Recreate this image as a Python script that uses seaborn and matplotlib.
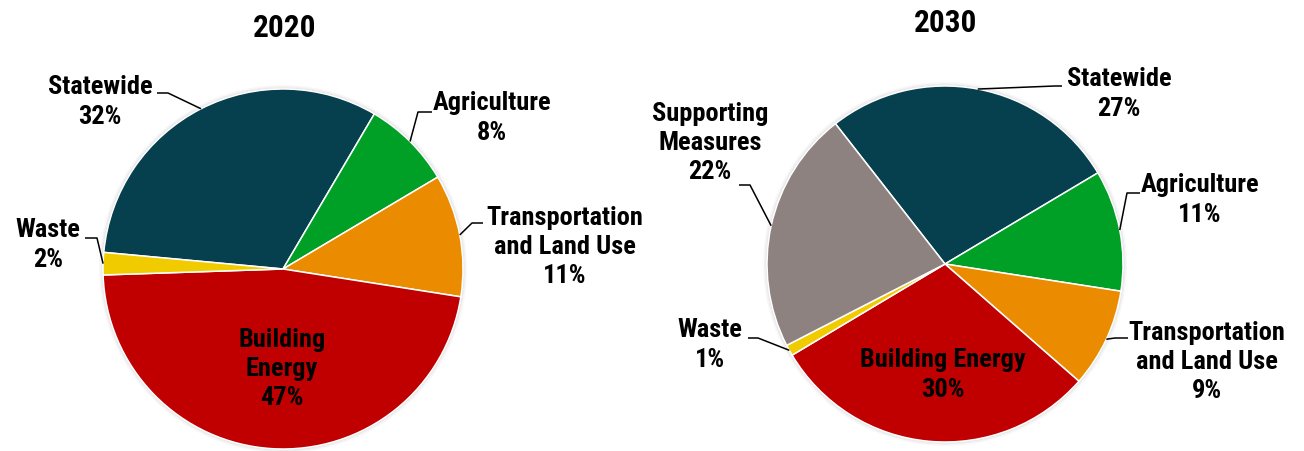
import numpy as np
import matplotlib
matplotlib.use("Agg")
import matplotlib.pyplot as plt
from matplotlib import font_manager
import seaborn as sns

# Emission reduction shares by sector
sectors_2020 = ["Statewide", "Agriculture", "Transportation\nand Land Use",
                "Building\nEnergy", "Waste"]
shares_2020 = [32, 8, 11, 47, 2]

sectors_2030 = ["Statewide", "Agriculture", "Transportation\nand Land Use",
                "Building Energy", "Waste", "Supporting\nMeasures"]
shares_2030 = [27, 11, 9, 30, 1, 22]

titles = ["2020", "2030"]

sector_colors = {
    "Statewide": "#063F4E",
    "Agriculture": "#00A026",
    "Transportation": "#EA8B00",
    "Building": "#C00000",
    "Waste": "#EFCB00",
    "Supporting": "#8E8280",
}

sns.set_theme(style="white")

# pick a narrow bold face if one is available
installed = {f.name for f in font_manager.fontManager.ttflist}
narrow = [f.name for f in font_manager.fontManager.ttflist
          if f.stretch in ("condensed", "semi-condensed", "extra-condensed")
          or "Condensed" in f.name or "Narrow" in f.name]
preferred = ["Liberation Sans Narrow", "Roboto Condensed", "Open Sans Condensed",
             "DejaVu Sans Condensed"]
family = [f for f in preferred if f in installed]
if not family and narrow:
    family = [sorted(set(narrow))[0]]
plt.rcParams["font.family"] = family + ["DejaVu Sans"]
plt.rcParams["font.weight"] = "bold"
plt.rcParams["font.stretch"] = "condensed"

W, H = 1304, 451
fig = plt.figure(figsize=(W / 100, H / 100), dpi=100)
ax = fig.add_axes([0, 0, 1, 1])
ax.set_xlim(0, W)
ax.set_ylim(0, H)
ax.axis("off")


def P(x, y):
    """Convert top-left pixel placement to axes coordinates."""
    return x, H - y


def colors_for(names):
    return sns.color_palette([sector_colors[n.split()[0]] for n in names])


def draw_pie(names, values, center, radius, start):
    cx, cy = P(*center)
    # soft halo around the pie rim
    for k, a in [(4, 0.05), (2.5, 0.08), (1.2, 0.12)]:
        ax.add_patch(plt.Circle((cx, cy), radius + k, color="#888888",
                                alpha=a, lw=0, zorder=0))
    wedges, _ = ax.pie(values, colors=colors_for(names), startangle=start,
                       counterclock=False, center=(cx, cy), radius=radius,
                       wedgeprops=dict(edgecolor="white", linewidth=1.1),
                       frame=True)
    return wedges


def rim_point(w):
    mid = np.deg2rad((w.theta1 + w.theta2) / 2)
    return (w.center[0] + w.r * np.cos(mid), w.center[1] + w.r * np.sin(mid))


def label(text, pos, size=19):
    ax.text(*P(*pos), text, ha="center", va="center", fontsize=size,
            fontweight="bold", fontstretch="condensed", color="black",
            linespacing=1.28, multialignment="center", zorder=5)


def leader(w, start, elbow):
    x0, y0 = P(*start)
    x1, y1 = P(*elbow)
    x2, y2 = rim_point(w)
    ax.plot([x0, x1, x2], [y0, y1, y2], color="black", lw=1.1,
            solid_capstyle="butt", zorder=4)


# ---- 2020 ----
w20 = draw_pie(sectors_2020, shares_2020, (283, 269), 180,
               59.5 + shares_2020[0] * 3.6)
ax.text(*P(285, 28), titles[0], ha="center", va="center", fontsize=22.5,
        fontweight="bold", fontstretch="condensed", color="black")

pos20 = [(100, 102), (492, 118), (565, 247), (282, 369), (48, 245)]
lead20 = {0: ((157, 93), (168, 93)), 1: ((432, 112), (418, 112)),
          2: ((483, 223), (472, 223)), 4: ((85, 238), (97, 238))}
for i, (n, v) in enumerate(zip(sectors_2020, shares_2020)):
    label(f"{n}\n{v}%", pos20[i])
    if i in lead20:
        leader(w20[i], *lead20[i])

# ---- 2030 ----
w30 = draw_pie(sectors_2030, shares_2030, (945, 264), 178, 128)
ax.text(*P(946, 23), titles[1], ha="center", va="center", fontsize=22.5,
        fontweight="bold", fontstretch="condensed", color="black")

pos30 = [(1119, 94), (1200, 200), (1207, 362), (943, 375), (710, 345),
         (710, 143)]
lead30 = {0: ((1062, 86), (1055, 86)), 1: ((1140, 193), (1127, 193)),
          2: ((1128, 338), (1115, 338)), 4: ((748, 338), (758, 338)),
          5: ((739, 185), (750, 185))}
for i, (n, v) in enumerate(zip(sectors_2030, shares_2030)):
    label(f"{n}\n{v}%", pos30[i])
    if i in lead30:
        leader(w30[i], *lead30[i])

ax.set_xlim(0, W)
ax.set_ylim(0, H)
ax.set_aspect("auto")
fig.savefig("out.png", dpi=100, facecolor="white")
